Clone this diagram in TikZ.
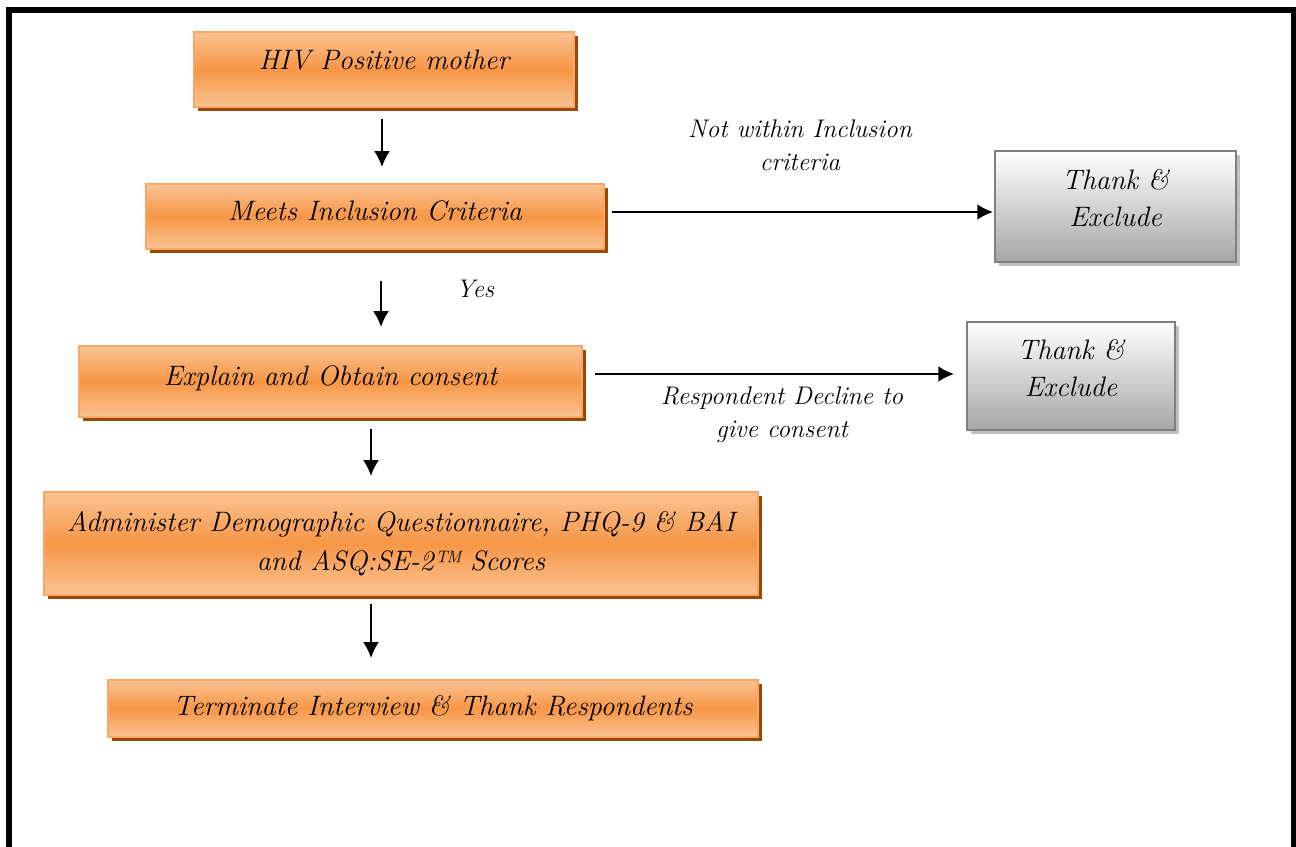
\documentclass[tikz,border=0pt]{standalone}
\usetikzlibrary{shadows,arrows.meta}

\definecolor{orangemid}{HTML}{F79646}
\definecolor{orangelight}{HTML}{FAC392}
\definecolor{orangeedge}{HTML}{F9A766}
\definecolor{orangeshadow}{HTML}{984807}
\definecolor{greybot}{HTML}{A6A6A6}
\definecolor{greyedge}{HTML}{7F7F7F}
\definecolor{greyshadow}{HTML}{BFBFBF}

\tikzset{
  orangebox/.style={draw=orangeedge, line width=1.1pt,
    top color=orangelight, bottom color=orangelight, middle color=orangemid,
    drop shadow={shadow xshift=0.08cm, shadow yshift=-0.08cm, fill=orangeshadow, opacity=1},
    align=center, font=\fontsize{16}{22}\selectfont\itshape},
  raised/.style={text height=12pt, text depth=#1},
  raised/.default=8pt,
  greybox/.style={draw=greyedge, line width=1.1pt,
    top color=white, bottom color=greybot,
    drop shadow={shadow xshift=0.08cm, shadow yshift=-0.08cm, fill=greyshadow, opacity=1},
    align=center, font=\fontsize{16}{21}\selectfont\itshape,
    text height=33pt, text depth=10pt},
  flow/.style={-{Latex[length=9pt,width=9pt]}, line width=1.1pt},
  note/.style={align=center, font=\fontsize{14.5}{19}\selectfont\itshape}
}

\begin{document}
\begin{tikzpicture}[x=0.02cm, y=-0.02cm]
  \useasboundingbox (0,0) rectangle (1296,847);

  % outer frame, open at the bottom
  \draw[line width=3.4pt] (9,847) -- (9,10) -- (1293.5,10) -- (1293.5,847);

  % main column
  \node[orangebox, raised=12pt, minimum width=7.6cm, minimum height=1.5cm] (hiv) at (384,69.5) {HIV Positive mother};
  \node[orangebox, raised, minimum width=9.16cm, minimum height=1.3cm] (meets) at (375,216.5) {Meets Inclusion Criteria};
  \node[orangebox, raised, minimum width=10.06cm, minimum height=1.42cm] (explain) at (330.5,381.5) {Explain and Obtain consent};
  \node[orangebox, minimum width=14.28cm, minimum height=2.06cm] (admin) at (401,543.5)
    {Administer Demographic Questionnaire, PHQ-9 \& BAI\\and ASQ:SE-2\texttrademark\ Scores};
  \node[orangebox, minimum width=13cm, minimum height=1.14cm] (term) at (433,708.5) {Terminate Interview \& Thank Respondents};

  % exclusions
  \node[greybox, minimum width=4.82cm, minimum height=2.22cm] (thanka) at (1115.5,206.5) {Thank \&\\Exclude};
  \node[greybox, minimum width=4.16cm, minimum height=2.16cm] (thankb) at (1071,376) {Thank \&\\Exclude};

  % downward arrows
  \draw[flow, shorten <=0.22cm, shorten >=0.32cm] ([xshift=-0.04cm]hiv.south) -- ([xshift=-0.04cm]hiv.south |- meets.north);
  \draw[flow, shorten <=0.62cm, shorten >=0.36cm] ([xshift=0.12cm]meets.south) -- ([xshift=0.12cm]meets.south |- explain.north);
  \draw[flow, shorten <=0.22cm, shorten >=0.3cm] ([xshift=0.81cm]explain.south) -- ([xshift=0.81cm]explain.south |- admin.north);
  \draw[flow, shorten <=0.16cm, shorten >=0.42cm] ([xshift=-0.6cm]admin.south) -- ([xshift=-0.6cm]admin.south |- term.north);

  % sideways arrows
  \draw[flow, shorten <=0.14cm, shorten >=0.02cm] ([yshift=0.09cm]meets.east) -- ([yshift=0.09cm]meets.east -| thanka.west);
  \draw[flow, shorten <=0.24cm, shorten >=0.24cm] ([yshift=0.15cm]explain.east) -- ([yshift=0.15cm]explain.east -| thankb.west);

  % labels
  \node[note] (notwithin) at (800,145) {Not within Inclusion\\criteria};
  \node[note] (yes) at (475,289) {Yes};
  \node[note] (decline) at (782,415) {Respondent Decline to\\give consent};
\end{tikzpicture}
\end{document}
